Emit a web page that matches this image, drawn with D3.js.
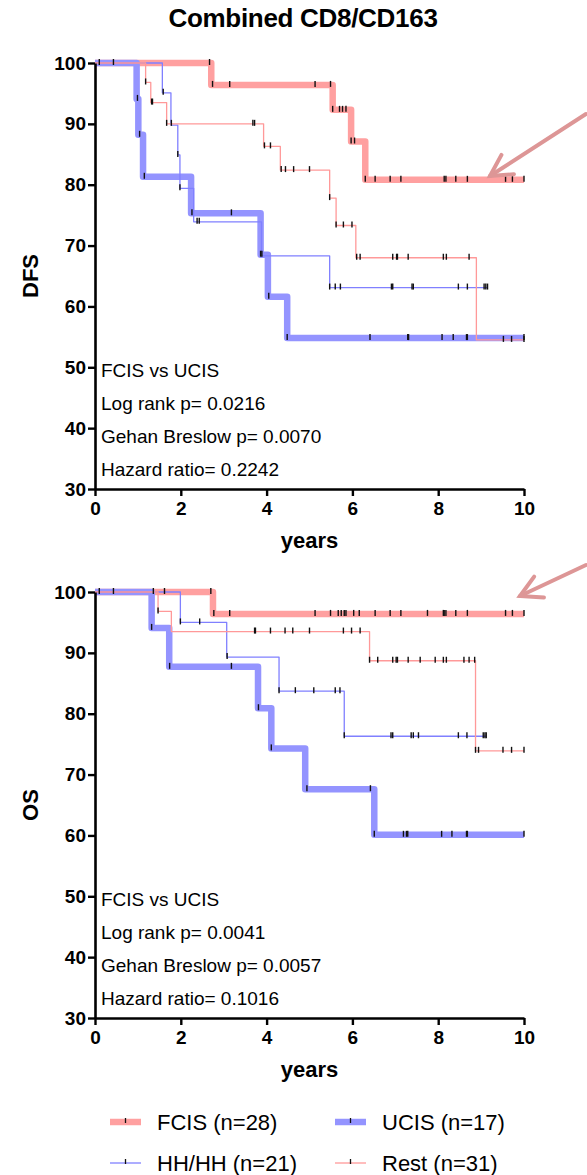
<!DOCTYPE html>
<html>
<head>
<meta charset="utf-8">
<script src="https://cdn.jsdelivr.net/npm/d3@7/dist/d3.min.js"></script>
<style>
  body { margin: 0; background: #fff; }
  svg { display: block; font-family: "Liberation Sans", Arial, sans-serif; }
</style>
</head>
<body>
<div id="chart"></div>
<script>
const W = 587, H = 1175;

// DFS step points [years, %] and censor times
const dfsFcis = [[0,100],[2.71,96.4],[5.54,92.3],[5.97,87.1],[6.30,80.8]];
const dfsFcisCens = [0.1,2.67,2.74,3.14,5.13,5.49,5.54,5.70,5.77,5.85,5.97,6.05,6.30,6.53,6.88,7.13,8.14,8.18,8.41,8.68,9.57,9.73,10];
const dfsUcis = [[0,100],[0.97,94.1],[1.01,88.2],[1.12,81.3],[2.24,75.3],[3.86,68.5],[4.03,61.6],[4.48,54.8]];
const dfsUcisCens = [0.43,0.99,1.04,1.15,2.26,3.18,3.86,3.89,4.05,4.48,6.41,7.29,7.31,8.09,8.35,8.66,8.68,10];
const dfsHh = [[0,100],[1.57,95.1],[1.77,89.8],[1.93,84.9],[1.98,79.4],[2.3,73.9],[3.88,68.3],[5.47,63.1]];
const dfsHhCens = [1.59,1.93,1.98,2.38,2.43,5.47,5.6,5.72,6.91,6.94,7.39,7.42,8.47,8.68,9.07,9.11,9.15];
const dfsRest = [[0,100],[1.18,96.8],[1.30,93.5],[1.67,90.0],[3.93,86.3],[4.32,82.4],[5.47,77.8],[5.62,73.3],[6.08,68.0],[8.89,54.5]];
const dfsRestCens = [1.18,1.32,1.34,1.67,1.78,3.68,3.72,3.95,4.09,4.34,4.44,4.63,5.0,5.47,5.62,5.79,5.99,6.10,6.18,6.94,7.03,7.05,7.30,8.12,8.19,8.72,9.52,9.71,10];

// OS step points and censor times
const osFcis = [[0,100],[2.75,96.4]];
const osFcisCens = [0.1,1.36,1.62,2.7,2.77,3.14,5.13,5.49,5.67,5.74,5.81,5.85,6.03,6.16,6.53,6.88,7.13,7.75,8.12,8.14,8.18,8.41,8.68,9.57,9.73,10];
const osUcis = [[0,100],[1.32,94.1],[1.73,87.7],[3.80,80.9],[4.11,74.3],[4.90,67.6],[6.51,60.1]];
const osUcisCens = [0.43,1.32,1.74,3.18,3.81,4.11,4.94,6.42,6.51,7.19,7.26,7.29,8.08,8.32,8.66,8.68,10];
const osHh = [[0,100],[1.99,95.0],[3.07,89.3],[4.29,83.7],[5.81,76.3]];
const osHhCens = [1.99,2.44,3.08,4.29,4.67,5.1,5.6,5.71,5.81,6.9,6.94,7.37,7.42,7.54,8.47,8.67,9.05,9.09,9.12];
const osRest = [[0,100],[1.47,96.8],[1.78,93.5],[6.40,88.7],[8.87,73.9]];
const osRestCens = [1.47,3.72,3.74,4.09,4.43,4.61,5.0,5.79,5.98,6.18,6.40,6.59,6.94,7.02,7.05,7.30,7.58,7.93,8.12,8.19,8.60,8.72,8.85,8.87,8.94,9.51,9.71,10];

const endFcis = 10, endUcis = 10, endRest = 10, dfsEndHh = 9.15, osEndHh = 9.12;

const xTicks = [0, 2, 4, 6, 8, 10];
const yTicks = [30, 40, 50, 60, 70, 80, 90, 100];
const dfsText = ["FCIS vs UCIS", "Log rank p= 0.0216", "Gehan Breslow p= 0.0070", "Hazard ratio= 0.2242"];
const osText = ["FCIS vs UCIS", "Log rank p= 0.0041", "Gehan Breslow p= 0.0057", "Hazard ratio= 0.1016"];
const legendNames = ["FCIS (n=28)", "UCIS (n=17)", "HH/HH (n=21)", "Rest (n=31)"];

const svg = d3.select("#chart").append("svg")
    .attr("width", W)
    .attr("height", H);

const x = d3.scaleLinear().domain([0, 10]).range([95, 524]);

const style = {
    fcis: { color: "#ffa0a0", width: 6.5 },
    ucis: { color: "#9494ff", width: 6.5 },
    hh: { color: "#8080ff", width: 1.3 },
    rest: { color: "#ff9999", width: 1.3 }
};

svg.append("text")
    .attr("x", 303)
    .attr("y", 27)
    .attr("text-anchor", "middle")
    .attr("font-weight", "bold")
    .attr("font-size", 26)
    .attr("letter-spacing", -0.3)
    .text("Combined CD8/CD163");

function levelAt(steps, t) {
    let v = steps[0][1];
    steps.forEach(s => { if (s[0] <= t) v = s[1]; });
    return v;
}

function drawPanel(y, series, notes, label) {
    const g = svg.append("g");

    const line = d3.line()
        .x(d => x(d[0]))
        .y(d => y(d[1]))
        .curve(d3.curveStepAfter);

    series.forEach(s => {
        const pts = s.steps.concat([[s.end, s.steps[s.steps.length - 1][1]]]);
        g.append("path")
            .datum(pts)
            .attr("fill", "none")
            .attr("stroke", style[s.key].color)
            .attr("stroke-width", style[s.key].width)
            .attr("stroke-linejoin", "round")
            .attr("d", line);
    });

    //censor marks on top
    series.forEach(s => {
        g.append("g")
            .selectAll("line")
            .data(s.cens)
            .join("line")
            .attr("x1", d => x(d))
            .attr("x2", d => x(d))
            .attr("y1", d => y(levelAt(s.steps, d)) - 4)
            .attr("y2", d => y(levelAt(s.steps, d)) + 2)
            .attr("stroke", "#111")
            .attr("stroke-width", 1.4);
    });

    const yAxis = g.append("g")
        .attr("transform", `translate(${x(0)},0)`)
        .call(d3.axisLeft(y).tickValues(yTicks).tickSize(7).tickSizeOuter(0).tickPadding(2));

    const xAxis = g.append("g")
        .attr("transform", `translate(0,${y(30)})`)
        .call(d3.axisBottom(x).tickValues(xTicks).tickSize(7).tickSizeOuter(0).tickPadding(6));

    [yAxis, xAxis].forEach(a => {
        a.select(".domain").attr("stroke", "#000").attr("stroke-width", 2.6);
        a.selectAll(".tick line").attr("stroke", "#000").attr("stroke-width", 2.4);
        a.selectAll(".tick text")
            .attr("fill", "#000")
            .attr("font-family", "Liberation Sans, Arial, sans-serif")
            .attr("font-weight", "bold")
            .attr("font-size", 19);
    });

    g.append("text")
        .attr("x", (x(0) + x(10)) / 2)
        .attr("y", y(30) + 59)
        .attr("text-anchor", "middle")
        .attr("font-weight", "bold")
        .attr("font-size", 22)
        .text("years");

    g.append("text")
        .attr("transform", `translate(38,${(y(30) + y(100)) / 2}) rotate(-90)`)
        .attr("text-anchor", "middle")
        .attr("font-weight", "bold")
        .attr("font-size", 22)
        .text(label);

    notes.forEach((t, i) => {
        g.append("text")
            .attr("x", 101)
            .attr("y", y(30) - 112 + i * 33)
            .attr("font-size", 19)
            .text(t);
    });
}

const yDfs = d3.scaleLinear().domain([30, 100]).range([489, 63]);
const yOs = d3.scaleLinear().domain([30, 100]).range([1018, 592]);

drawPanel(yDfs, [
    { key: "fcis", steps: dfsFcis, cens: dfsFcisCens, end: endFcis },
    { key: "ucis", steps: dfsUcis, cens: dfsUcisCens, end: endUcis },
    { key: "hh", steps: dfsHh, cens: dfsHhCens, end: dfsEndHh },
    { key: "rest", steps: dfsRest, cens: dfsRestCens, end: endRest }
], dfsText, "DFS");

drawPanel(yOs, [
    { key: "fcis", steps: osFcis, cens: osFcisCens, end: endFcis },
    { key: "ucis", steps: osUcis, cens: osUcisCens, end: endUcis },
    { key: "hh", steps: osHh, cens: osHhCens, end: osEndHh },
    { key: "rest", steps: osRest, cens: osRestCens, end: endRest }
], osText, "OS");

//arrows pointing at the FCIS plateau
function arrow(x1, y1, x2, y2) {
    const a = Math.atan2(y2 - y1, x2 - x1);
    const len = 24, spread = 0.5;
    const g = svg.append("g")
        .attr("stroke", "#dd9696")
        .attr("stroke-width", 4)
        .attr("stroke-linecap", "round")
        .attr("fill", "none");
    g.append("line").attr("x1", x1).attr("y1", y1).attr("x2", x2).attr("y2", y2);
    g.append("path").attr("d",
        `M${x2 - len * Math.cos(a - spread)},${y2 - len * Math.sin(a - spread)}` +
        `L${x2},${y2}` +
        `L${x2 - len * Math.cos(a + spread)},${y2 - len * Math.sin(a + spread)}`);
}
arrow(586, 114, 490, 176);
arrow(586, 565, 520, 596);

//legend
const legendPos = [[110, 1122], [335, 1122], [110, 1163], [335, 1163]];
const legendKeys = ["fcis", "ucis", "hh", "rest"];
legendKeys.forEach((k, i) => {
    const [lx, ly] = legendPos[i];
    svg.append("line")
        .attr("x1", lx).attr("x2", lx + 31)
        .attr("y1", ly).attr("y2", ly)
        .attr("stroke", style[k].color)
        .attr("stroke-width", style[k].width);
    svg.append("line")
        .attr("x1", lx + 15.5).attr("x2", lx + 15.5)
        .attr("y1", ly - 4).attr("y2", ly + 1)
        .attr("stroke", "#111")
        .attr("stroke-width", 1.3);
    svg.append("text")
        .attr("x", lx + 47)
        .attr("y", ly + 8)
        .attr("font-size", 22)
        .text(legendNames[i]);
});
</script>
</body>
</html>
